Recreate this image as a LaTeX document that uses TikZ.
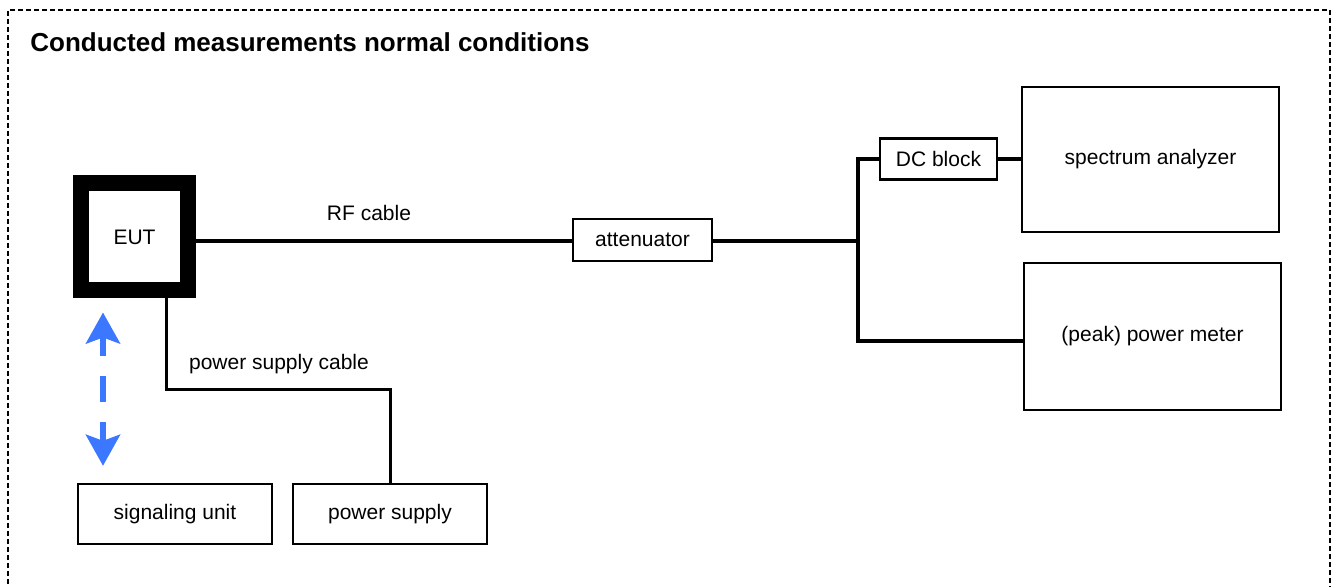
\documentclass[tikz,border=0pt]{standalone}
\usepackage{fontspec}
\setmainfont{Liberation Sans}
\usetikzlibrary{arrows.meta}
\definecolor{sigblue}{RGB}{60,120,255}
\tikzset{
  unit/.style={draw,line width=1.2pt,inner sep=0pt,font=\fontsize{10.5}{12}\selectfont},
  rfcable/.style={line width=2pt},
  dccable/.style={line width=1.5pt},
  cablelabel/.style={font=\fontsize{10.5}{12}\selectfont,inner sep=0pt}
}
\begin{document}
\begin{tikzpicture}[x=0.5pt,y=-0.5pt]
\useasboundingbox (0,0) rectangle (1336,587);
% frame
\draw[line width=0.6pt,dash pattern=on 2.5pt off 1.5pt] (8,600) -- (8,10) -- (1330,10) -- (1330,600);
\node[anchor=base west,inner sep=0pt,font=\fontsize{13}{15}\selectfont\bfseries] (title) at (30,52) {Conducted measurements normal conditions};
% units
\node[draw,line width=8pt,minimum width=53.5pt,minimum height=53.5pt,font=\fontsize{10.5}{12}\selectfont] (eut) at (134.5,237) {EUT};
\node[unit,minimum width=69.5pt,minimum height=21pt] (att) at (642.5,240) {attenuator};
\node[unit,minimum width=58.5pt,minimum height=20.5pt] (dcb) at (938.5,159) {DC block};
\node[unit,minimum width=128.5pt,minimum height=72.5pt] (spa) at (1150.5,159.5) {spectrum analyzer};
\node[unit,minimum width=128.5pt,minimum height=73.5pt] (pwm) at (1152.5,336.5) {(peak) power meter};
\node[unit,minimum width=97pt,minimum height=30pt] (sig) at (175,514) {signaling unit};
\node[unit,minimum width=97pt,minimum height=30pt] (psu) at (390,514) {power supply};
\coordinate (split) at (858,241);
\coordinate (pscorner) at (166,389);
\coordinate (sigx) at (103,0);
% cables
\draw[rfcable] (eut.east |- split) -- (att.west |- split);
\draw[rfcable] (att.east |- split) -- (split);
\draw[rfcable] (dcb.west) -| (split) |- ([yshift=-2.25pt]pwm.west);
\draw[rfcable] (dcb.east) -- (spa.west |- dcb.east);
\draw[dccable] (eut.south -| pscorner) -- (pscorner) -| (psu.north);
\node[cablelabel] (rflabel) at (369,213) {RF cable};
\node[cablelabel] (pslabel) at (279,364) {power supply cable};
% signaling link
\draw[sigblue,line width=3pt,dash pattern=on 10pt off 10pt on 13pt off 10pt,
  {Stealth[length=15.5pt,width=17pt,inset=3pt]}-{Stealth[length=15.5pt,width=17pt,inset=3pt]},
  shorten <=7pt,shorten >=8.5pt] (eut.south -| sigx) -- (sig.north -| sigx);
\end{tikzpicture}
\end{document}
